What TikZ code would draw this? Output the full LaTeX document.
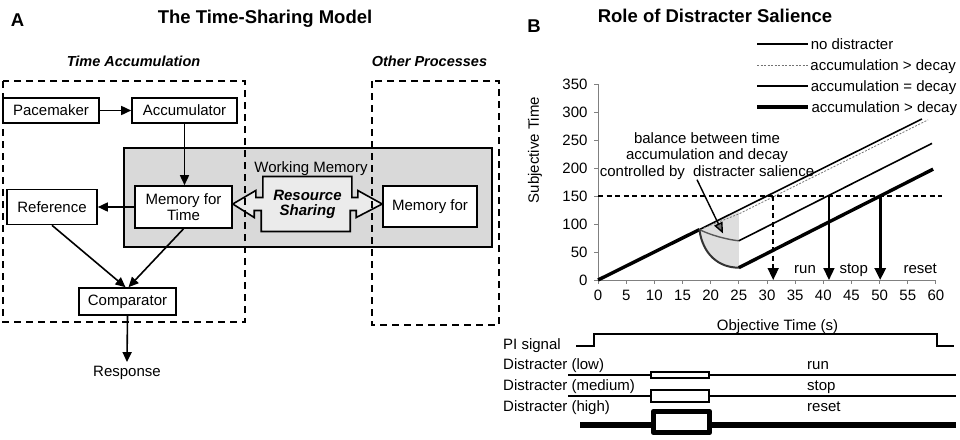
\documentclass[tikz,border=0pt]{standalone}
\usepackage{fontspec}
\setmainfont{Liberation Sans}
\usepackage{xcolor}
\usetikzlibrary{arrows.meta}

\tikzset{
  blk/.style={draw, line width=1.6pt, fill=white, inner sep=2pt, align=center},
  link/.style={line width=1.6pt, -{Triangle[width=9pt,length=10pt]}},
  region/.style={line width=1.6pt, dash pattern=on 7pt off 5pt},
  hd/.style={font=\fontsize{18.5}{20}\selectfont\bfseries},
  grp/.style={font=\fontsize{14.5}{17}\selectfont\bfseries\itshape},
  axisline/.style={black!50, line width=1pt},
  drop/.style={-{Triangle[width=11pt,length=12pt]}},
  lvl/.style={dash pattern=on 5pt off 3.5pt},
}

\begin{document}
\begin{tikzpicture}[x=1pt, y=-1pt, every node/.style={font=\fontsize{15}{16.5}\selectfont, inner sep=0pt}]
\useasboundingbox (0,0) rectangle (960,439);

% A: the time-sharing model
\node[hd, anchor=base] (labA) at (17.5,27) {A};
\node[hd, anchor=base] (ttlA) at (265,23) {The Time-Sharing Model};
\node[grp, anchor=base] (tacc) at (133.5,66) {Time Accumulation};
\node[grp, anchor=base] (oth) at (429.5,66) {Other Processes};

\filldraw[fill=black!15, line width=1.6pt] (124,148) rectangle (492,247);
\node[anchor=base] (wm) at (311,172) {Working Memory};

\node[blk, minimum width=96pt, minimum height=25pt] (pm) at (51,110.5) {Pacemaker};
\node[blk, minimum width=105pt, minimum height=25pt] (acc) at (184.5,110.5) {Accumulator};
\node[blk, minimum width=97pt, minimum height=42pt] (mft) at (183.5,207) {Memory for\\Time};
\node[blk, minimum width=90pt, minimum height=35pt] (ref) at (52,207) {Reference};
\node[blk, minimum width=97pt, minimum height=27pt] (cmp) at (127.5,301.5) {Comparator};
\node[blk, minimum width=94pt, minimum height=41pt] (mfo) at (430,206.5) {Memory for};
\node[inner sep=4pt] (resp) at (127,373) {Response};

\coordinate (rsc) at (307.5,204);
\filldraw[fill=black!8, line width=1.6pt]
  (mft.east |- rsc) -- ++(23,-13.5) -- ++(0,7) -- ++(7,0) -- ++(0,-21) -- ++(89,0)
  -- ++(0,21) -- ++(6,0) -- ++(0,-7) -- (mfo.west |- rsc) -- ++(-26,13.5) -- ++(0,-7)
  -- ++(-6,0) -- ++(0,21) -- ++(-89,0) -- ++(0,-21) -- ++(-7,0) -- ++(0,7) -- cycle;
\node[font=\fontsize{15}{15}\selectfont\bfseries\itshape, align=center] (rs) at (rsc) {Resource\\Sharing};

\draw[link] (pm) -- (acc);
\draw[link] (acc.south) -- (acc.south |- mft.north);
\draw[link] (mft) -- (ref);
\draw[link] (ref.south) -- ([xshift=-2pt]cmp.north);
\draw[link] (mft.south) -- ([xshift=1pt]cmp.north);
\draw[link] (cmp.south) -- (resp.north);

\draw[region] (3,81) rectangle (245,322);
\draw[region] (372,81) rectangle (499,325);

% B: role of distracter salience
\node[hd, anchor=base] (labB) at (534,32) {B};
\node[hd, anchor=base] (ttlB) at (715,22) {Role of Distracter Salience};

\draw[line width=1.6pt] (757,44) -- (808,44) node[anchor=base west, xshift=2pt, yshift=-5.5pt] (lg1) {no distracter};
\draw[black!55, line width=0.8pt, dash pattern=on 2pt off 1.5pt] (757,65) -- (808,65) node[text=black, anchor=base west, xshift=2pt, yshift=-5.5pt] (lg2) {accumulation > decay};
\draw[line width=1.7pt] (757,86) -- (808,86) node[anchor=base west, xshift=2pt, yshift=-5.5pt] (lg3) {accumulation = decay};
\draw[line width=3.2pt] (757,107) -- (808,107) node[anchor=base west, xshift=2pt, yshift=-5.5pt] (lg4) {accumulation > decay};

\begin{scope}[shift={(598,280)}, x=5.633pt, y=0.56pt]
  \fill[black!13] (18,90) .. controls (18.6,45) and (21.5,22) .. (25,22) -- (25,122) -- cycle;
  \draw[axisline] (0,350) -- (0,0) -- (60,0);
  \foreach \v in {0,50,...,350}
    \draw[axisline] (0,\v) -- ++(-4pt,0pt) node[left=6pt, text=black] (yt\v) {\v};
  \foreach \t in {0,5,...,60}
    \draw[axisline] (\t,0) -- ++(0pt,-4pt) node[below=6pt, text=black] (xt\t) {\t};

  \draw[line width=3.4pt] (0,0) -- (18,90);
  \draw[line width=1.6pt] (18,90) -- (57.5,287.5);
  \draw[black!55, line width=0.8pt, dash pattern=on 2pt off 1.5pt] (18.8,93) -- (25,118) -- (58.6,286);
  \draw[black!65, line width=1.4pt] (18,90) .. controls (20,80) and (23,72) .. (25,70);
  \draw[line width=1.6pt] (25,70) -- (59.3,244);
  \draw[black!80, line width=2pt] (18,90) .. controls (18.6,45) and (21.5,22) .. (25,22);
  \draw[line width=3.4pt] (25,22) -- (59.5,198);
  \draw[lvl, line width=1.6pt] (0,150) -- (61,150);

  \coordinate (runtop) at (31.1,150);
  \coordinate (stoptop) at (41,150);
  \coordinate (resettop) at (50.1,150);
  \draw[drop, lvl, line width=1.6pt] (runtop) -- (runtop |- 0,0);
  \draw[drop, line width=1.6pt] (stoptop) -- (stoptop |- 0,0);
  \draw[drop, line width=3pt] (resettop) -- (resettop |- 0,0);
  \node[anchor=base] (run) at (36.75,12.5) {run};
  \node[anchor=base] (stop) at (45.4,12.5) {stop};
  \node[anchor=base] (reset) at (57.2,12.5) {reset};

  \coordinate (pk) at (22.2,83);
\end{scope}

\node[rotate=90] (ylab) at (535,150) {Subjective Time};
\node[anchor=base] (xlab) at (777.5,330) {Objective Time (s)};

\node[align=center] (note) at (707,156) {balance between time\\accumulation and decay\\controlled by\ \ distracter salience};
\draw[line width=1.4pt, -{Triangle[width=9pt,length=11pt,fill=black!55]}] ([xshift=-10pt]note.south) -- (pk);

% timing of signal and distracters
\node[anchor=base west] (pisig) at (503,349.5) {PI signal};
\node[anchor=base west] (dlow) at (503,369.5) {Distracter (low)};
\node[anchor=base west] (dmed) at (503,390.5) {Distracter (medium)};
\node[anchor=base west] (dhigh) at (503,411.5) {Distracter (high)};
\node[anchor=base west] (trun) at (807,369.5) {run};
\node[anchor=base west] (tstop) at (807,390.5) {stop};
\node[anchor=base west] (treset) at (807,411.5) {reset};

\draw[line width=1.6pt] (576,346) -- (594,346) -- (594,334) -- (937,334) -- (937,346) -- (954,346);
\draw[line width=1.6pt] (568,375) -- (956,375);
\filldraw[fill=white, line width=1.6pt] (651,372) rectangle (709,378);
\draw[line width=2.8pt] (568,396) -- (956,396);
\filldraw[fill=white, line width=2.8pt] (651,390) rectangle (709,402);
\draw[line width=5.5pt] (580,425) -- (956,425);
\filldraw[fill=white, line width=5.5pt, line join=round] (653.5,411.5) rectangle (709.5,432.5);
\end{tikzpicture}
\end{document}
